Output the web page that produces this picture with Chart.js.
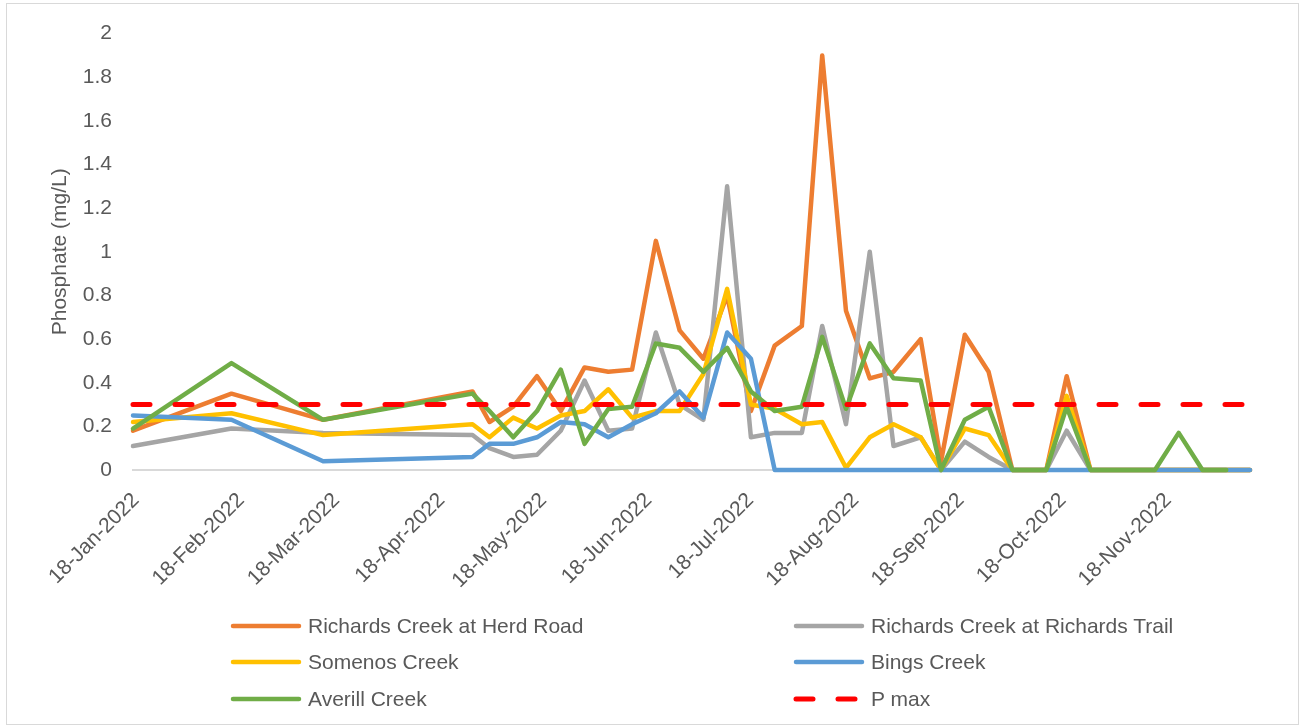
<!DOCTYPE html>
<html><head><meta charset="utf-8">
<script src="https://cdn.jsdelivr.net/npm/chart.js@4.4.1/dist/chart.umd.min.js"></script>
<style>
html,body{margin:0;padding:0;background:#fff;}
#wrap{position:relative;width:1302px;height:728px;overflow:hidden;background:#fff;}
#frame{position:absolute;left:6px;top:3px;width:1293px;height:722px;border:1px solid #d9d9d9;box-sizing:border-box;pointer-events:none;}
canvas{position:absolute;left:0;top:0;}
#legend{position:absolute;left:0;top:0;width:1302px;height:728px;pointer-events:none;font-family:"Liberation Sans";font-size:21px;color:#595959;}
.item{position:absolute;display:flex;align-items:center;height:30px;white-space:nowrap;}
.item svg{margin-right:6px;display:block;}
</style></head>
<body><div id="wrap"><canvas id="c" width="1302" height="728"></canvas><div id="legend"></div><div id="frame"></div></div>
<script>
// ---- data ----
const dates = ['2022-01-18','2022-02-16','2022-03-15','2022-04-28','2022-05-03','2022-05-10','2022-05-17','2022-05-24','2022-05-31','2022-06-07','2022-06-14','2022-06-21','2022-06-28','2022-07-05','2022-07-12','2022-07-19','2022-07-26','2022-08-03','2022-08-09','2022-08-16','2022-08-23','2022-08-30','2022-09-07','2022-09-13','2022-09-20','2022-09-27','2022-10-04','2022-10-14','2022-10-20','2022-10-27','2022-11-15','2022-11-22','2022-11-29','2022-12-06','2022-12-13'];
const herdRoad = [0.18,0.35,0.23,0.36,0.22,0.29,0.43,0.27,0.47,0.45,0.46,1.05,0.64,0.51,0.80,0.27,0.57,0.66,1.90,0.73,0.42,0.45,0.60,0.04,0.62,0.45,0,0,0.43,0,0,0,0,0,0];
const richardsTrail = [0.11,0.19,0.17,0.16,0.10,0.06,0.07,0.18,0.41,0.18,0.19,0.63,0.30,0.23,1.30,0.15,0.17,0.17,0.66,0.21,1.00,0.11,0.15,0,0.13,0.06,0,0,0.18,0,0,0,0,0,0];
const somenos = [0.22,0.26,0.16,0.21,0.15,0.24,0.19,0.25,0.27,0.37,0.24,0.27,0.27,0.44,0.83,0.30,0.28,0.21,0.22,0.01,0.15,0.21,0.15,0,0.19,0.16,0,0,0.34,0,0,0,0,0,0];
const bings = [0.25,0.23,0.04,0.06,0.12,0.12,0.15,0.22,0.21,0.15,0.21,0.26,0.36,0.24,0.63,0.51,0,0,0,0,0,0,0,0,0,0,0,0,0,0,0,0,0,0,0];
const averill = [0.19,0.49,0.23,0.35,0.27,0.15,0.27,0.46,0.12,0.28,0.29,0.58,0.56,0.45,0.56,0.36,0.27,0.29,0.61,0.28,0.58,0.42,0.41,0,0.23,0.29,0,0,0.29,0,0,0.17,0,0,null];
const pMax = 0.3;
const seriesNames = ['Richards Creek at Herd Road','Richards Creek at Richards Trail','Somenos Creek','Bings Creek','Averill Creek','P max'];
const tickDates = ['2022-01-18','2022-02-18','2022-03-18','2022-04-18','2022-05-18','2022-06-18','2022-07-18','2022-08-18','2022-09-18','2022-10-18','2022-11-18'];
const tickLabels = ['18-Jan-2022','18-Feb-2022','18-Mar-2022','18-Apr-2022','18-May-2022','18-Jun-2022','18-Jul-2022','18-Aug-2022','18-Sep-2022','18-Oct-2022','18-Nov-2022'];
const yTitle = 'Phosphate (mg/L)';

// ---- helpers ----
const DAY = 86400000;
const t0 = Date.parse(dates[0]);
const toDay = d => Math.round((Date.parse(d) - t0) / DAY);
const xs = dates.map(toDay);
const pts = vals => vals.map((v, i) => ({x: xs[i], y: v}));
const tickDays = tickDates.map(toDay);
const xMax = xs[xs.length - 1];

const TEXT = '#595959';
const FONT = {family: 'Liberation Sans', size: 21};
Chart.defaults.font.family = 'Liberation Sans';
Chart.defaults.color = TEXT;

const colors = ['#ED7D31','#A5A5A5','#FFC000','#5B9BD5','#70AD47','#FF0000'];
const seriesVals = [herdRoad, richardsTrail, somenos, bings, averill];
const datasets = seriesVals.map((vals, i) => ({
  label: seriesNames[i], data: pts(vals), borderColor: colors[i], backgroundColor: colors[i],
  borderWidth: 4.5, pointRadius: 0, tension: 0, borderJoinStyle: 'round', borderCapStyle: 'round',
  order: 10 - i, clip: false, spanGaps: false
}));
datasets.push({
  label: seriesNames[5], data: [{x: 0, y: pMax}, {x: xMax, y: pMax}], borderColor: colors[5], backgroundColor: colors[5],
  borderWidth: 5, borderDash: [17, 25], borderCapStyle: 'round', pointRadius: 0, order: 1, clip: false
});

const htmlLegend = {
  id: 'htmlLegend',
  afterUpdate(chart) {
    const box = document.getElementById('legend');
    box.innerHTML = '';
    const cols = [230, 793], rows = [626, 662, 699];
    chart.data.datasets.forEach((ds, i) => {
      const item = document.createElement('div');
      item.className = 'item';
      item.style.left = cols[i % 2] + 'px';
      item.style.top = (rows[Math.floor(i / 2)] - 15) + 'px';
      const dash = ds.borderDash && ds.borderDash.length ? 'stroke-dasharray="' + ds.borderDash.join(' ') + '"' : '';
      item.innerHTML = '<svg width="72" height="12"><line x1="3" y1="6" x2="69" y2="6" stroke="' + ds.borderColor + '" stroke-width="' + ds.borderWidth + '" stroke-linecap="round" ' + dash + '/></svg>';
      const span = document.createElement('span');
      span.textContent = ds.label;
      item.appendChild(span);
      box.appendChild(item);
    });
  }
};

new Chart(document.getElementById('c'), {
  type: 'line',
  data: {datasets},
  plugins: [htmlLegend],
  options: {
    responsive: false, animation: false,
    layout: {padding: {left: 0, right: 52, top: 32, bottom: 128}},
    plugins: {legend: {display: false}, tooltip: {enabled: false}},
    scales: {
      x: {
        type: 'linear', min: 0, max: xMax,
        afterBuildTicks: s => { s.ticks = tickDays.map(v => ({value: v})); },
        afterFit: s => { s.height = 130; },
        ticks: {autoSkip: false, minRotation: 45, maxRotation: 45, padding: 18, labelOffset: 3, font: FONT, color: TEXT,
          callback: (v, i) => tickLabels[i]},
        grid: {display: false, drawTicks: false},
        border: {display: true, color: '#D9D9D9', width: 2}
      },
      y: {
        min: 0, max: 2,
        afterFit: s => { s.width = 133; },
        ticks: {stepSize: 0.2, padding: 21, font: FONT, color: TEXT, callback: v => String(+(+v).toFixed(1))},
        grid: {display: false, drawTicks: false},
        border: {display: false},
        title: {display: true, text: yTitle, font: FONT, color: TEXT, padding: {top: 48, bottom: 0}}
      }
    }
  }
});
</script>
</body></html>
